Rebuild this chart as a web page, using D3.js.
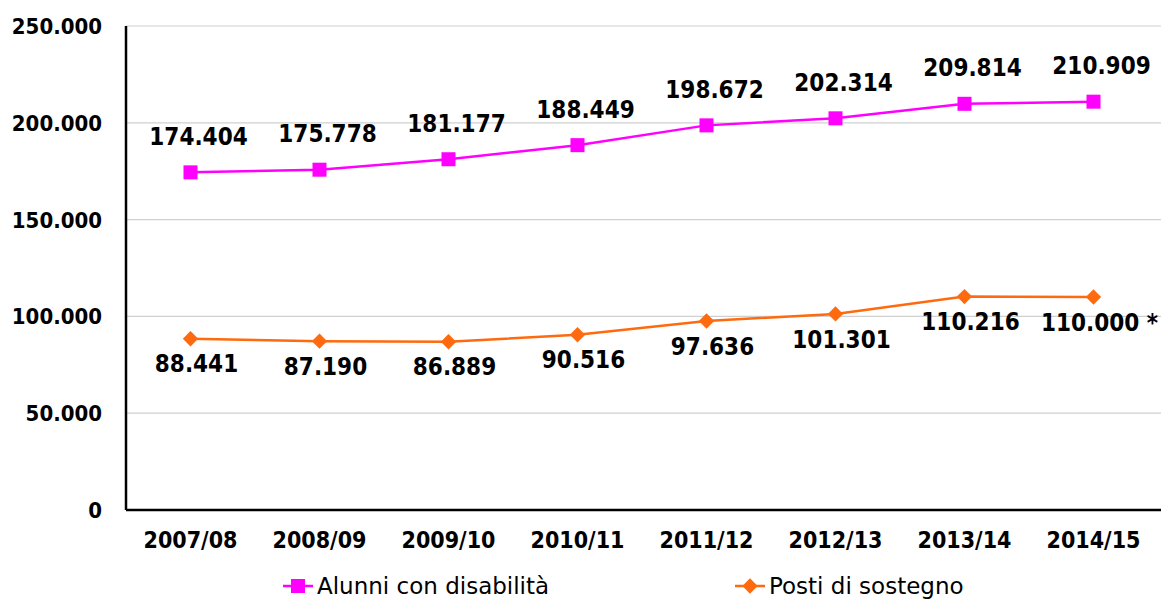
<!DOCTYPE html>
<html>
<head>
<meta charset="utf-8">
<script src="https://cdn.jsdelivr.net/npm/d3@7"></script>
<style>
  body { margin: 0; background: #fff; }
  svg { display: block; font-family: "DejaVu Sans", Verdana, sans-serif; }
  .cond { font-family: "DejaVu Sans Condensed", "DejaVu Sans", sans-serif; font-stretch: condensed; }
</style>
</head>
<body>
<svg id="chart" width="1161" height="601"></svg>
<script>
const years = ['2007/08', '2008/09', '2009/10', '2010/11', '2011/12', '2012/13', '2013/14', '2014/15']
const alunni = [174404, 175778, 181177, 188449, 198672, 202314, 209814, 210909]
const posti = [88441, 87190, 86889, 90516, 97636, 101301, 110216, 110000]
const postiNotes = ['', '', '', '', '', '', '', ' *']
const yTicks = [0, 50000, 100000, 150000, 200000, 250000]

const svg = d3.select('#chart')
const margin = {top: 26, right: 3, bottom: 91, left: 126}
const width = 1161 - margin.left - margin.right
const height = 601 - margin.top - margin.bottom

const g = svg.append('g')
  .attr('transform', `translate(${margin.left},${margin.top})`)

const xScale = d3.scaleBand().domain(years).range([0, width])
const yScale = d3.scaleLinear().domain([0, 250000]).range([height, 0])

const fmt = v => d3.format(',')(v).replace(/,/g, '.')

// gridlines
g.selectAll('.grid').data(yTicks.slice(1)).enter().append('line')
  .attr('x1', 0).attr('x2', width + margin.right)
  .attr('y1', d => yScale(d)).attr('y2', d => yScale(d))
  .attr('stroke', '#d0d0d0').attr('stroke-width', 1.2)

// y axis labels
g.selectAll('.ytick').data(yTicks).enter().append('text')
  .attr('class', 'cond')
  .attr('x', -24).attr('y', d => yScale(d)).attr('dy', '0.36em')
  .attr('text-anchor', 'end')
  .attr('font-size', 22).attr('font-weight', 'bold')
  .text(d => d === 0 ? '0' : fmt(d))

// x axis labels
g.selectAll('.xtick').data(years).enter().append('text')
  .attr('class', 'cond')
  .attr('x', d => xScale(d) + xScale.bandwidth() / 2)
  .attr('y', height + 38)
  .attr('text-anchor', 'middle')
  .attr('font-size', 23).attr('font-weight', 'bold')
  .text(d => d)

// axis lines
g.append('line').attr('x1', 0).attr('x2', 0).attr('y1', 0).attr('y2', height)
  .attr('stroke', '#000').attr('stroke-width', 2.5)
g.append('line').attr('x1', 0).attr('x2', width + margin.right).attr('y1', height).attr('y2', height)
  .attr('stroke', '#000').attr('stroke-width', 2.5)

const cx = i => xScale(years[i]) + xScale.bandwidth() / 2
const line = d3.line().x((d, i) => cx(i)).y(d => yScale(d))

const magenta = '#ff00ff'
const orange = '#ff6a0e'

// Alunni
g.append('path').datum(alunni).attr('d', line)
  .attr('fill', 'none').attr('stroke', magenta).attr('stroke-width', 2.5)
g.selectAll('.sq').data(alunni).enter().append('rect')
  .attr('x', (d, i) => cx(i) - 7).attr('y', d => yScale(d) - 7)
  .attr('width', 14).attr('height', 14).attr('fill', magenta)
g.selectAll('.lblA').data(alunni).enter().append('text')
  .attr('class', 'cond')
  .attr('x', (d, i) => cx(i) + 8).attr('y', d => yScale(d) - 36)
  .attr('dy', '0.36em').attr('text-anchor', 'middle')
  .attr('font-size', 24).attr('font-weight', 'bold')
  .text(d => fmt(d))

// Posti
const diamond = d3.symbol().type(d3.symbolDiamond2).size(150)
g.append('path').datum(posti).attr('d', line)
  .attr('fill', 'none').attr('stroke', orange).attr('stroke-width', 2.5)
g.selectAll('.dm').data(posti).enter().append('path')
  .attr('d', diamond)
  .attr('transform', (d, i) => `translate(${cx(i)},${yScale(d)})`)
  .attr('fill', orange)
g.selectAll('.lblP').data(posti).enter().append('text')
  .attr('class', 'cond')
  .attr('x', (d, i) => cx(i) + 6).attr('y', d => yScale(d) + 25)
  .attr('dy', '0.36em').attr('text-anchor', 'middle')
  .attr('font-size', 24).attr('font-weight', 'bold')
  .text((d, i) => fmt(d) + postiNotes[i])

// legend
const legend = svg.append('g').attr('transform', 'translate(0, 586)')
const items = [
  {name: 'Alunni con disabilità', color: magenta, x: 283, shape: 'square'},
  {name: 'Posti di sostegno', color: orange, x: 735, shape: 'diamond'}
]
items.forEach(it => {
  const lg = legend.append('g').attr('transform', `translate(${it.x},0)`)
  lg.append('line').attr('x1', 0).attr('x2', 30).attr('y1', 0).attr('y2', 0)
    .attr('stroke', it.color).attr('stroke-width', 2.5)
  if (it.shape === 'square') {
    lg.append('rect').attr('x', 8).attr('y', -7).attr('width', 14).attr('height', 14).attr('fill', it.color)
  } else {
    lg.append('path').attr('d', diamond).attr('transform', 'translate(15,0)').attr('fill', it.color)
  }
  lg.append('text').attr('x', 34).attr('y', 0).attr('dy', '0.36em')
    .attr('font-size', 23).text(it.name)
})
</script>
</body>
</html>
